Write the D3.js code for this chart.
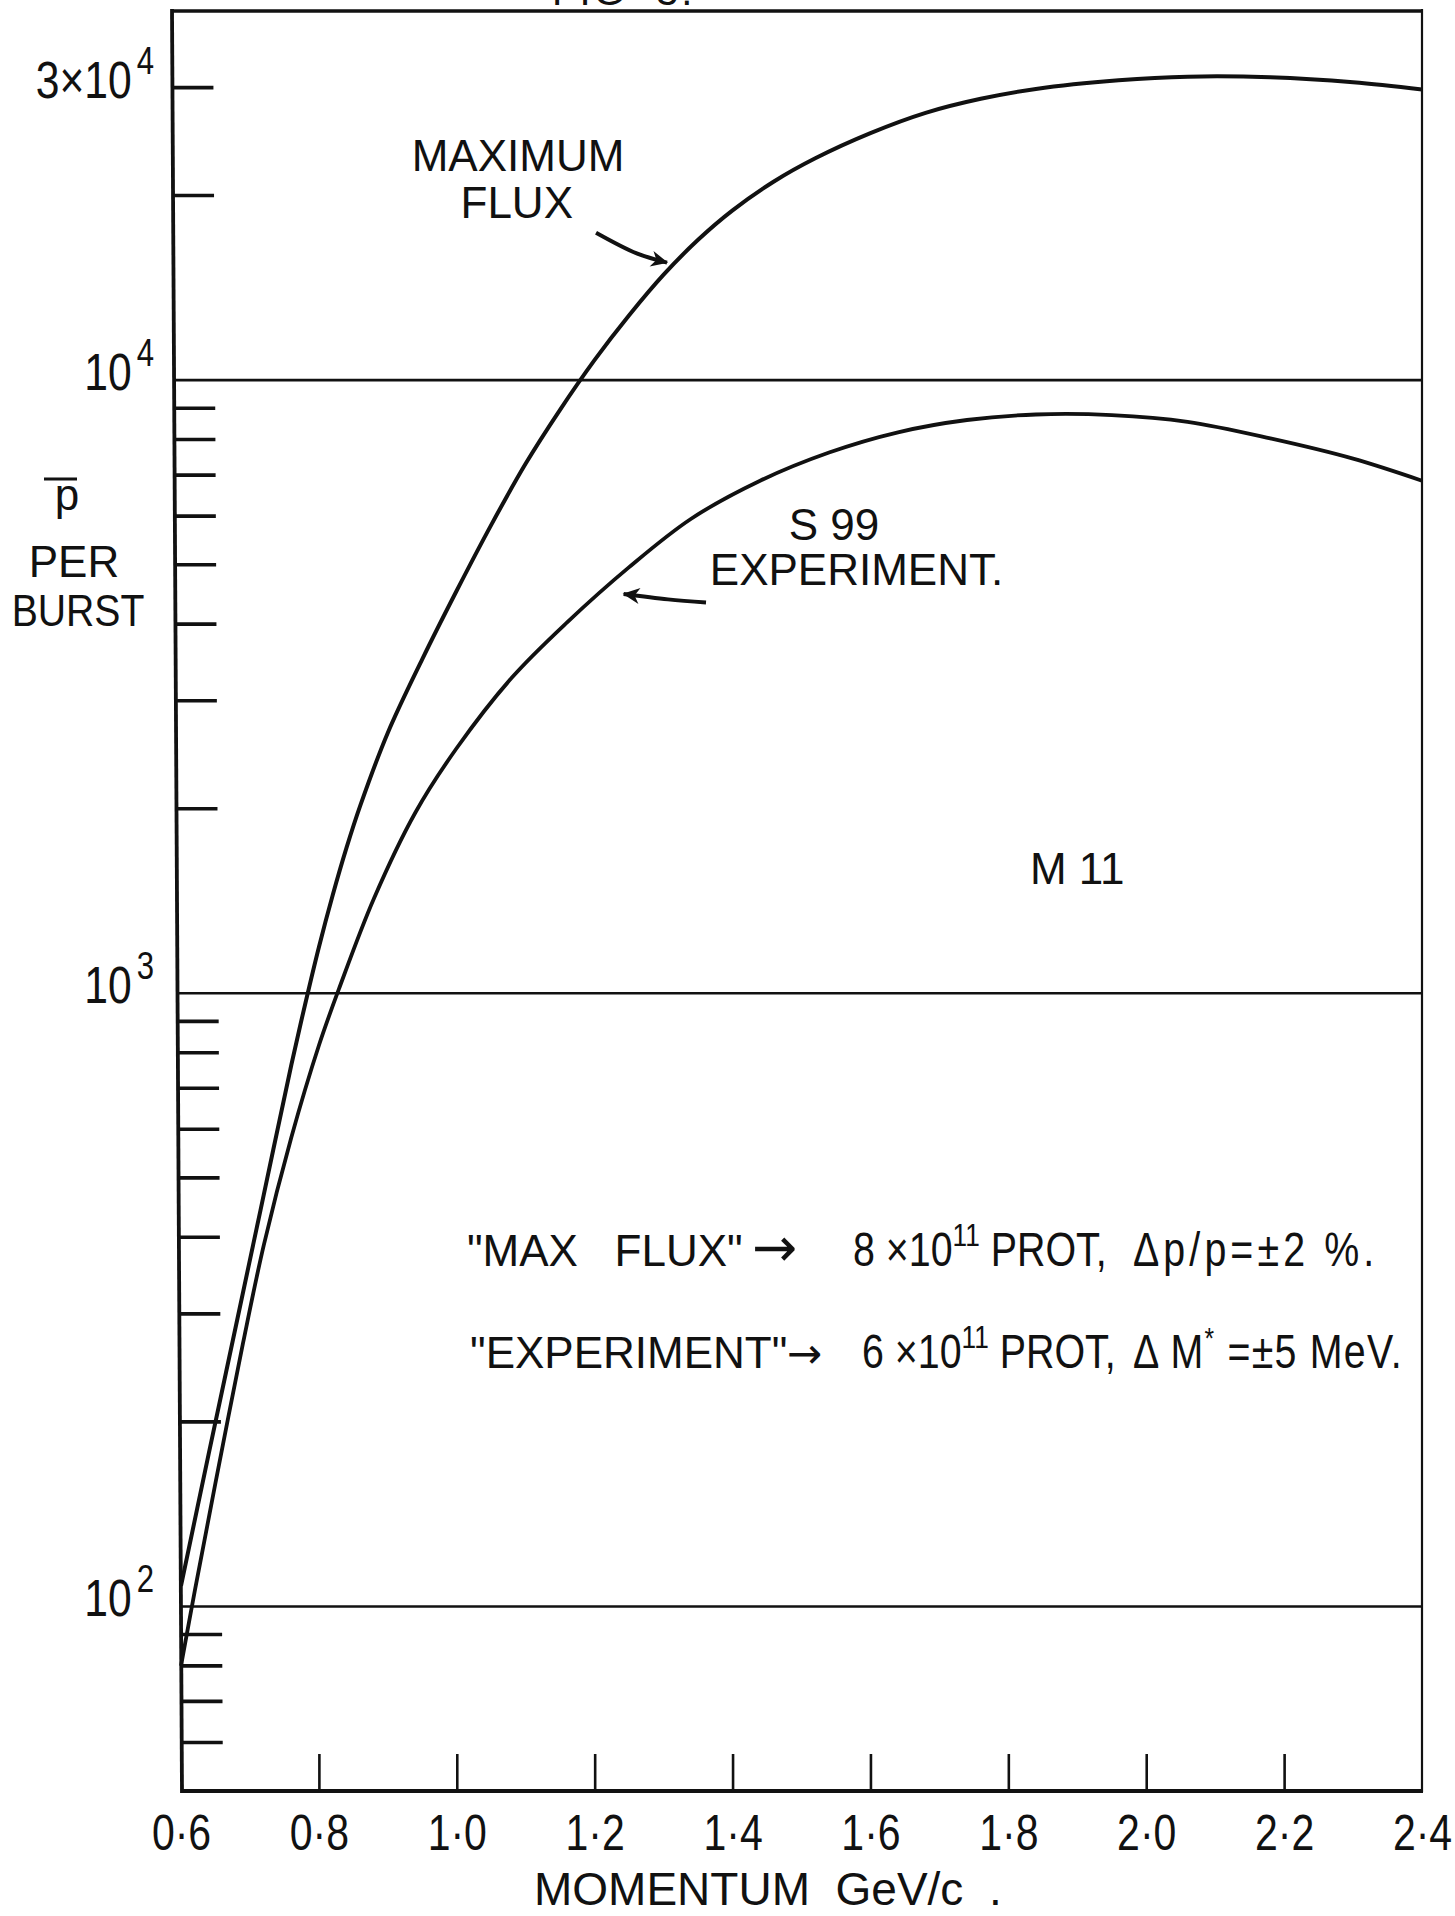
<!DOCTYPE html>
<html><head><meta charset="utf-8">
<script src="https://cdn.jsdelivr.net/npm/d3@7"></script>
<style>
html,body{margin:0;padding:0;background:#fff;}
svg{display:block;}
.w{font-family:"Liberation Sans", Arial, sans-serif;}
.a{font-family:"DejaVu Sans", sans-serif;}
</style></head><body>
<svg id="c" width="1455" height="1916"></svg>
<script>
// ---- data ----
const momentumMax = [0.60,0.64,0.68,0.72,0.76,0.78,0.80,0.82,0.84,0.86,0.90,0.95,1.00,1.05,1.10,1.15,1.20,1.25,1.30,1.35,1.40,1.46,1.52,1.60,1.68,1.76,1.84,1.96,2.06,2.18,2.30,2.40];
const maxFlux     = [108,177,288,469,764,959,1189,1445,1726,2023,2661,3508,4539,5808,7311,8954,10790,12760,14860,16940,18920,21090,23010,25290,27290,28770,29850,30830,31260,31190,30620,29790];
const momentumExp = [0.60,0.62,0.65,0.69,0.72,0.76,0.80,0.83,0.88,0.94,1.00,1.08,1.16,1.25,1.34,1.44,1.54,1.64,1.74,1.84,1.95,2.06,2.18,2.30,2.40];
const s99Flux     = [80,106,159,269,388,582,822,1023,1429,1972,2512,3273,4027,4955,5943,6855,7621,8222,8610,8790,8770,8551,8035,7447,6855];
const xTickValues = [0.6,0.8,1.0,1.2,1.4,1.6,1.8,2.0,2.2,2.4];
const xTickLabels = ["0·6","0·8","1·0","1·2","1·4","1·6","1·8","2·0","2·2","2·4"];
const yLabelValues = [30000,10000,1000,100];
const yLabelBase   = ["3×10","10","10","10"];
const yLabelExp    = ["4","4","3","2"];
const gridValues   = [100,1000,10000];

const INK = "#111";
const NARROW = 0.82;
const svg = d3.select("#c");
const x = d3.scaleLinear().domain([0.6,2.4]).range([181,1422]);
const y = d3.scaleLog().domain([50,40000]).range([1791,11]);
const yTop = y.range()[1], yBot = y.range()[0], xRight = x.range()[1];
const axisX = yy => 172 + (yy - yTop) / (yBot - yTop) * 10;   // hand-drawn axis leans slightly

// frame
svg.append("line").attr("x1",172).attr("y1",yTop).attr("x2",xRight).attr("y2",yTop).attr("stroke",INK).attr("stroke-width",3.5);
svg.append("line").attr("x1",xRight).attr("y1",yTop-2).attr("x2",xRight).attr("y2",yBot+1).attr("stroke",INK).attr("stroke-width",2.2);
svg.append("line").attr("x1",axisX(yTop)).attr("y1",yTop-2).attr("x2",axisX(yBot)).attr("y2",yBot+2).attr("stroke",INK).attr("stroke-width",3.8);
svg.append("line").attr("x1",axisX(yBot)).attr("y1",yBot).attr("x2",xRight+1).attr("y2",yBot).attr("stroke",INK).attr("stroke-width",4);

// top fragment of figure caption (mostly cut off by the page edge, as in the scan)
svg.append("text").attr("class","w").attr("x",552).attr("y",5).attr("font-size",40)
  .attr("letter-spacing",3).attr("fill",INK).style("white-space","pre").text("FIG  3.");

// gridlines at decades
svg.selectAll("line.grid").data(gridValues).join("line").attr("class","grid")
  .attr("x1",d=>axisX(y(d))).attr("x2",xRight).attr("y1",d=>y(d)).attr("y2",d=>y(d))
  .attr("stroke",INK).attr("stroke-width",2.6);

// minor ticks
const minor = y.ticks().filter(v => v > 50 && v < 40000 && Math.abs(Math.log10(v) - Math.round(Math.log10(v))) > 1e-9);
svg.selectAll("line.mt").data(minor).join("line").attr("class","mt")
  .attr("x1",d=>axisX(y(d))).attr("x2",d=>axisX(y(d))+41).attr("y1",d=>y(d)).attr("y2",d=>y(d))
  .attr("stroke",INK).attr("stroke-width",3.6);

// y labels (condensed lettering)
const yl = svg.selectAll("text.yl").data(yLabelValues).join("text").attr("class","yl w")
  .attr("transform",d=>`translate(154,${y(d)+10}) scale(${NARROW},1)`)
  .attr("text-anchor","end").attr("fill",INK).attr("font-size",52);
yl.append("tspan").text((d,i)=>yLabelBase[i]);
yl.append("tspan").attr("dx",6).attr("dy",-24).attr("font-size",38).text((d,i)=>yLabelExp[i]);

// x axis
const xAxis = d3.axisBottom(x).tickValues(xTickValues).tickSizeInner(-37).tickSizeOuter(0).tickPadding(24)
  .tickFormat((d,i)=>xTickLabels[i]);
const gx = svg.append("g").attr("transform",`translate(0,${yBot})`).call(xAxis);
gx.select(".domain").remove();
gx.selectAll(".tick line").attr("stroke",INK).attr("stroke-width",2.6)
  .filter(d => d === 0.6 || d === 2.4).remove();
gx.selectAll(".tick text").attr("class","w").attr("font-size",50).attr("fill",INK)
  .attr("transform",`scale(${NARROW},1)`);

// axis titles
svg.append("text").attr("class","w").attr("x",534).attr("y",1905).attr("font-size",46).attr("fill",INK)
  .style("white-space","pre").text("MOMENTUM  GeV/c  .");
svg.append("text").attr("class","w").attr("x",67).attr("y",510).attr("font-size",44).attr("text-anchor","middle").attr("fill",INK).text("p");
svg.append("line").attr("x1",44).attr("x2",77).attr("y1",479).attr("y2",479).attr("stroke",INK).attr("stroke-width",3.2);
svg.append("text").attr("class","w").attr("x",74).attr("y",577).attr("font-size",44).attr("text-anchor","middle").attr("fill",INK).text("PER");
svg.append("text").attr("class","w").attr("transform","translate(78,626) scale(0.89,1)").attr("font-size",44).attr("text-anchor","middle").attr("fill",INK).text("BURST");

// curves
const line = d3.line().x(d=>x(d[0])).y(d=>y(d[1])).curve(d3.curveCatmullRom.alpha(0.5));
svg.append("path").datum(momentumMax.map((p,i)=>[p,maxFlux[i]]))
  .attr("d",line).attr("fill","none").attr("stroke",INK).attr("stroke-width",4);
svg.append("path").datum(momentumExp.map((p,i)=>[p,s99Flux[i]]))
  .attr("d",line).attr("fill","none").attr("stroke",INK).attr("stroke-width",3.8);

// arrowhead marker
svg.append("defs").append("marker").attr("id","ah").attr("viewBox","-18 -10 20 20")
  .attr("refX",0).attr("refY",0).attr("markerWidth",20).attr("markerHeight",20)
  .attr("markerUnits","userSpaceOnUse").attr("orient","auto")
  .append("path").attr("d","M1,0 L-16,-8 L-11,0 L-16,8 Z").attr("fill",INK);

// annotations, anchored in data coordinates
const ann = (cls, p, v, size, anchor, txt, sx) => svg.append("text").attr("class",cls)
  .attr("transform",`translate(${x(p)},${y(v)}) scale(${sx||1},1)`)
  .attr("font-size",size).attr("text-anchor",anchor).attr("fill",INK)
  .style("white-space","pre").text(txt);
ann("w",1.0888,21900,44,"middle","MAXIMUM");
ann("w",1.087,18400,44,"middle","FLUX");
ann("w",1.547,5480,44,"middle","S 99");
ann("w",1.367,4630,44,"start","EXPERIMENT.");
ann("w",1.8314,1510,44,"start","M 11");

const arrowLine = d3.line().x(d=>x(d[0])).y(d=>y(d[1])).curve(d3.curveCatmullRom);
svg.append("path").datum([[1.202,17400],[1.261,16100],[1.305,15550]]).attr("d",arrowLine)
  .attr("fill","none").attr("stroke",INK).attr("stroke-width",4).attr("marker-end","url(#ah)");
svg.append("path").datum([[1.3615,4340],[1.3064,4390],[1.242,4480]]).attr("d",arrowLine)
  .attr("fill","none").attr("stroke",INK).attr("stroke-width",4).attr("marker-end","url(#ah)");

// bottom notes
const L1 = 359.5, L2 = 245;
ann("w",1.0148,L1,44,"start","\"MAX   FLUX\"");
ann("a",1.4282,L1,54,"start","\u2192");
{
  const t = ann("w",1.5747,L1,48,"start","",NARROW);
  t.append("tspan").text("8 \u00D710");
  t.append("tspan").attr("dy",-20).attr("font-size",32).text("11");
  t.append("tspan").attr("dy",20).text(" PROT,");
}
ann("w",1.9808,L1,48,"start","\u0394p/p=\u00B12 %.",NARROW).attr("letter-spacing",5);

ann("w",1.0192,L2,44,"start","\"EXPERIMENT\"");
ann("a",1.4790,L2,42,"start","\u2192");
{
  const t = ann("w",1.5878,L2,48,"start","",NARROW);
  t.append("tspan").text("6 \u00D710");
  t.append("tspan").attr("dy",-20).attr("font-size",32).text("11");
  t.append("tspan").attr("dy",20).text(" PROT,");
  const u = ann("w",1.9808,L2,48,"start","",NARROW).attr("letter-spacing",1.5);
  u.append("tspan").text("\u0394 M");
  u.append("tspan").attr("dy",-20).attr("font-size",30).text("*");
  u.append("tspan").attr("dy",20).text(" =\u00B15 MeV.");
}
</script>
</body></html>
